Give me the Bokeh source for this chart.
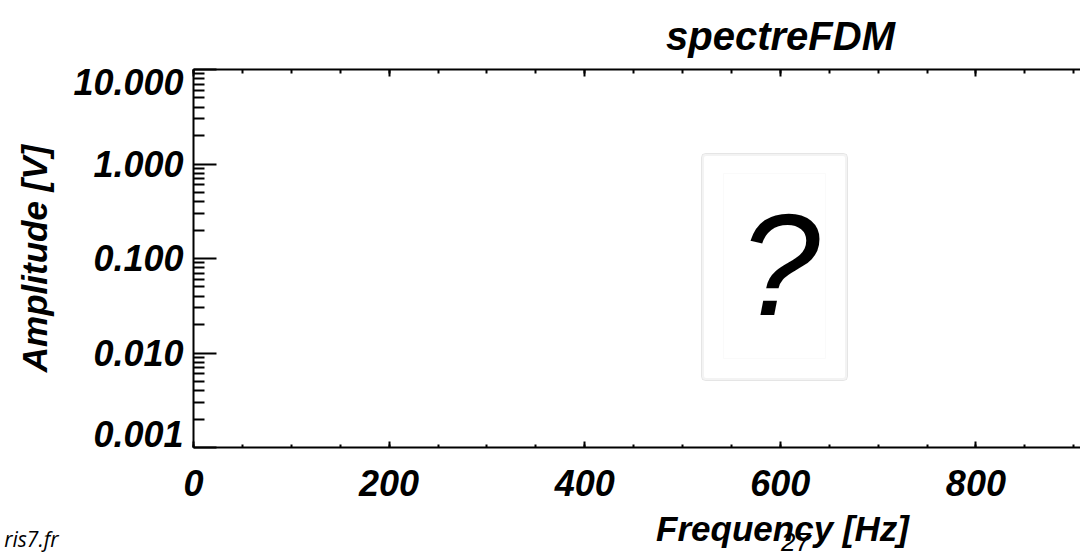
import math
from bokeh.plotting import figure
from bokeh.models import Range1d, FixedTicker, LinearAxis, Label, BoxAnnotation
from bokeh.embed import file_html
from bokeh.resources import INLINE

# ---- data / texts ----
title_text = "spectreFDM"
x_label = "Frequency [Hz]"
y_label = "Amplitude [V]"
x_ticks = [0, 200, 400, 600, 800]
x_minor_step = 50
y_ticks = [0.001, 0.01, 0.1, 1.0, 10.0]
y_tick_labels = ["0.001", "0.010", "0.100", "1.000", "10.000"]
x_min = 0
y_min, y_max = 0.001, 10.0
footer_left = "ris7.fr"
page_number = "27"
placeholder = "?"

# ---- layout (canvas pixels; the plot frame fills the canvas, axes sit at fixed spots) ----
W, H = 1080, 556
AX_LEFT, AX_TOP, AX_BOTTOM = 193, 69, 447     # where the axes box sits
PX_PER_X = 0.978                              # pixels per Hz
FONT = "Liberation Sans"
TICK_SIZE = 36
LAB_SIZE = 35
BASE_SHIFT = 0.37                              # label baseline correction (em)

LY0, LY1 = math.log10(y_min), math.log10(y_max)
DEC = (AX_BOTTOM - AX_TOP) / (LY1 - LY0)

def xdata(px):
    return (px - AX_LEFT) / PX_PER_X + x_min

def ypx(v):
    return AX_TOP + (LY1 - math.log10(v)) * DEC

def ydata(py):
    return 10 ** (LY1 - (py - AX_TOP) / DEC)

x_max = xdata(W)
p = figure(width=W, height=H, x_range=Range1d(xdata(0), x_max),
           y_range=Range1d(ydata(H), ydata(0)), y_axis_type="log",
           output_backend="svg", toolbar_location=None, min_border=0,
           outline_line_color=None, background_fill_color="white", border_fill_color="white")
p.grid.visible = False

x_minor = list(range(x_min, int(x_max) + 1, x_minor_step))
y_minor = [m * 10.0 ** k for k in range(int(LY0), int(LY1)) for m in range(2, 10)]

def style_axis(ax, major_in, minor_in):
    ax.axis_line_width = 2
    ax.axis_line_color = "black"
    ax.major_tick_in = major_in
    ax.major_tick_out = 0
    ax.minor_tick_in = minor_in
    ax.minor_tick_out = 0
    ax.major_tick_line_width = 2
    ax.minor_tick_line_width = 2
    ax.major_tick_line_color = "black"
    ax.minor_tick_line_color = "black"

# bottom axis
xa = p.xaxis[0]
xa.ticker = FixedTicker(ticks=x_ticks, minor_ticks=x_minor)
xa.fixed_location = y_min
xa.bounds = (x_min, x_max)
style_axis(xa, 6, 3)
xa.major_label_text_font = FONT
xa.major_label_text_font_style = "bold italic"
xa.major_label_text_font_size = f"{TICK_SIZE}px"
xa.major_label_text_color = "black"
xa.major_label_standoff = 22

# top axis (ticks only)
ta = LinearAxis(ticker=FixedTicker(ticks=x_ticks, minor_ticks=x_minor),
                fixed_location=y_max, bounds=(x_min, x_max),
                major_label_text_font_size="10px", major_label_text_alpha=0)
style_axis(ta, 7, 4)
p.add_layout(ta, "above")

# left axis
ya = p.yaxis[0]
ya.ticker = FixedTicker(ticks=y_ticks, minor_ticks=y_minor)
ya.fixed_location = x_min
ya.bounds = (y_min, y_max)
style_axis(ya, 23, 11)
ya.major_label_text_font_size = "10px"
ya.major_label_text_alpha = 0

def add_text(px, py, text, size, style="bold italic", align="center", font=FONT, angle=0.0):
    # px, py: baseline anchor measured from the canvas top-left corner
    sx, sy = px, H - py
    if angle:
        sx -= BASE_SHIFT * size
    else:
        sy += BASE_SHIFT * size
    p.add_layout(Label(x=sx, y=sy, x_units="screen", y_units="screen", text=text,
                       text_align=align, text_baseline="alphabetic", text_font=font,
                       text_font_style=style, text_font_size=f"{size}px", text_color="black",
                       angle=angle, level="overlay"))

# y tick labels (kept inside the axis span like the original)
for v, t in zip(y_ticks, y_tick_labels):
    base = min(max(ypx(v) + 13, AX_TOP + 26), AX_BOTTOM)
    add_text(183, base, t, TICK_SIZE, align="right")

# title and axis labels
add_text(780, 50, title_text, 40)
add_text(782, 541, x_label, LAB_SIZE)
add_text(47, (AX_TOP + AX_BOTTOM) / 2, y_label, LAB_SIZE, angle=math.pi / 2)

# broken-image placeholder
p.add_layout(BoxAnnotation(left=xdata(701), right=xdata(847), top=ydata(153), bottom=ydata(380),
                           fill_color="white", fill_alpha=1, line_color="#a8a8a8", line_width=1,
                           border_radius=4, level="overlay"))
p.add_layout(BoxAnnotation(left=xdata(702.5), right=xdata(845.5), top=ydata(154.5), bottom=ydata(378.5),
                           fill_alpha=0, line_color="#d6d6d6", line_width=2,
                           border_radius=3, level="overlay"))
p.add_layout(BoxAnnotation(left=xdata(723), right=xdata(825), top=ydata(173), bottom=ydata(358),
                           fill_alpha=0, line_color="#ededed", line_width=1, level="overlay"))
add_text(779, 318, placeholder, 145, style="italic")

# page footer fragments
add_text(58, 546, footer_left, 21, style="italic", align="right", font="Open Sans")
add_text(795, 551, page_number, 26, style="italic")

open("out.html", "w").write(file_html(p, INLINE))
